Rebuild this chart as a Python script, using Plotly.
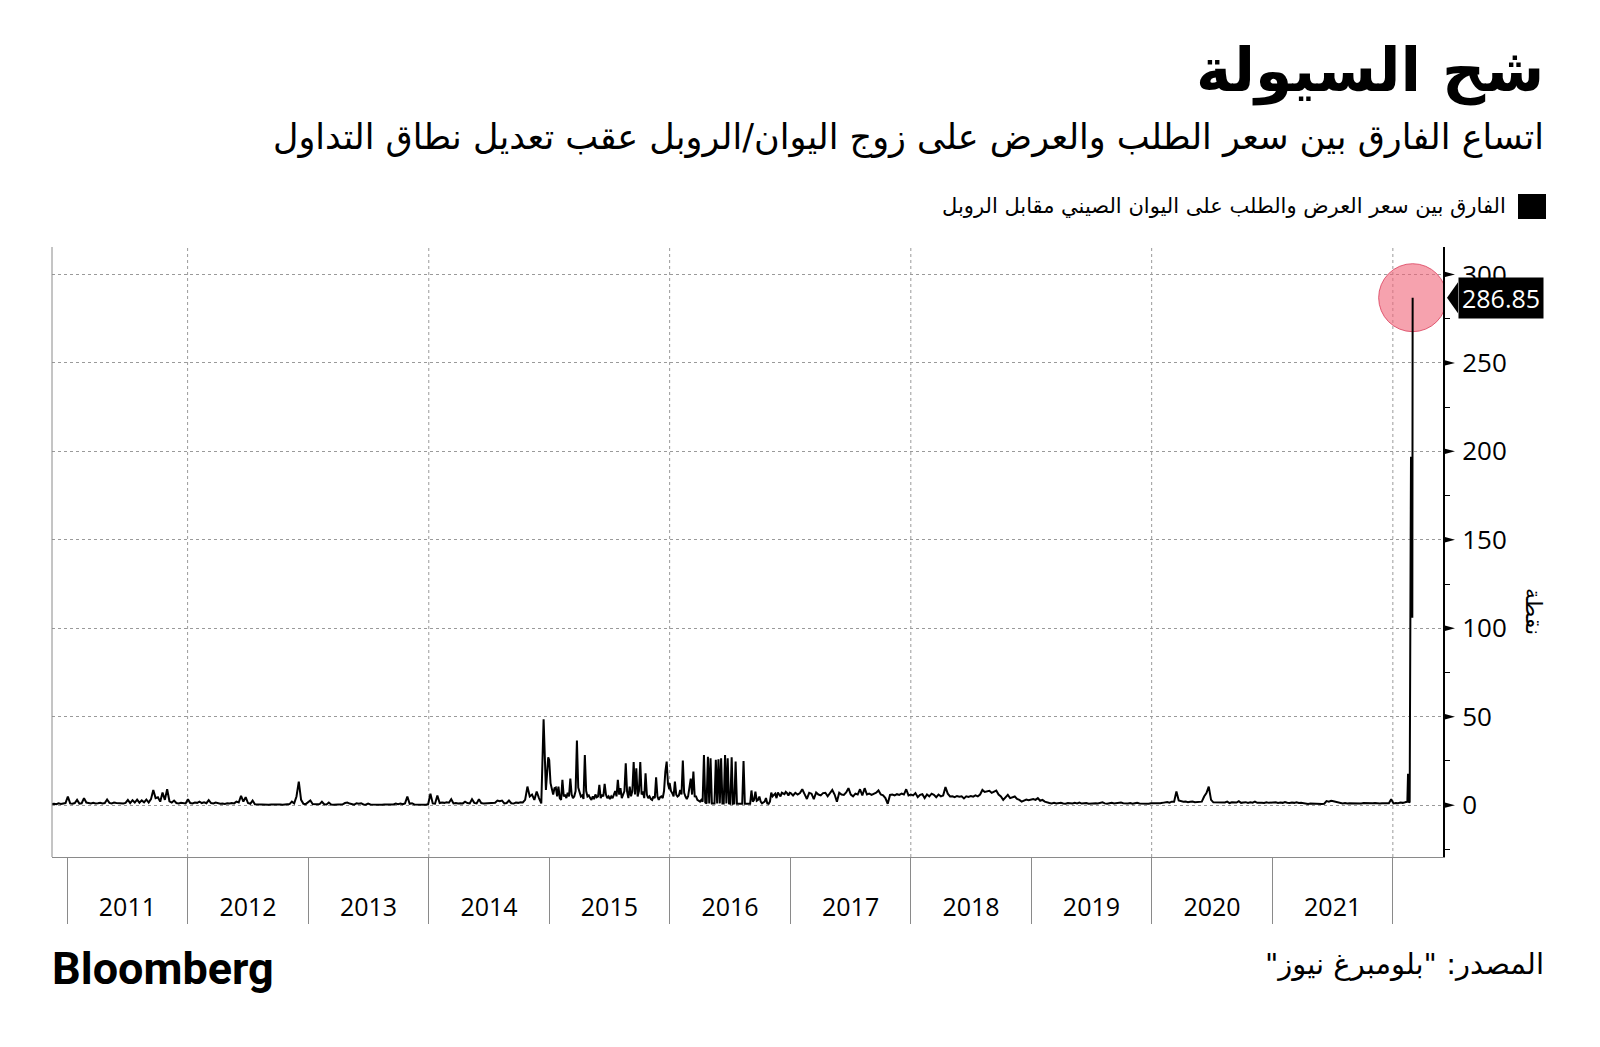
import pandas as pd
import plotly.graph_objects as go

# ---------------- DATA ----------------
# weekly values, 2010-11-15 .. 2010-12-27
y2010 = [0.6, 0.8, 0.5, 1.0, 0.7, 0.9, 1.2]
# weekly values from first Monday of each year
y2011 = [4.9, 1.0, 0.8, 1.2, 3.0, 0.9, 1.1, 4.0, 1.5, 1.2, 1.0, 1.3, 0.9, 1.1, 1.4, 1.0, 1.2, 3.2, 1.3, 1.0,
         1.5, 1.2, 1.1, 1.4, 1.0, 1.3, 3.0, 1.2, 2.8, 1.5, 3.1, 1.4, 2.7, 1.6, 3.2, 1.5, 3.4, 8.6, 4.0, 4.5,
         2.0, 7.1, 3.0, 9.0, 2.2, 1.5, 2.6, 1.2, 1.0, 1.4, 1.1, 1.0]
y2012 = [3.4, 1.2, 1.0, 1.5, 1.3, 2.0, 1.2, 1.6, 1.1, 2.8, 1.2, 1.0, 1.5, 1.0, 0.8, 0.9, 0.7, 1.1, 0.9, 1.2,
         1.0, 2.0, 1.5, 5.3, 2.0, 4.5, 1.2, 0.8, 2.6, 0.5, 0.4, 0.4, 0.3, 0.5, 0.4, 0.3, 0.4, 0.5, 0.3, 0.4,
         0.4, 0.3, 0.5, 0.4, 0.6, 2.0, 1.0, 4.9, 13.3, 3.0, 0.8, 0.6]
y2013 = [2.6, 0.6, 0.4, 0.5, 0.6, 1.9, 0.5, 0.4, 1.5, 0.4, 0.3, 0.4, 0.3, 0.4, 0.5, 1.2, 1.5, 0.9, 0.4, 0.3,
         1.1, 0.8, 1.1, 0.4, 0.3, 0.9, 0.4, 0.3, 0.3, 0.4, 0.3, 0.3, 0.4, 0.3, 0.4, 0.3, 0.4, 0.9, 0.6, 0.9,
         0.5, 1.0, 4.9, 0.8, 1.1, 0.4, 0.3, 0.4, 0.3, 0.4, 0.3, 0.5]
y2014 = [6.4, 1.0, 0.8, 5.5, 1.2, 1.5, 1.3, 1.6, 1.4, 3.4, 1.0, 1.2, 0.9, 1.1, 1.0, 2.0, 1.2, 1.0, 3.4, 1.3,
         1.0, 3.4, 1.2, 0.9, 1.0, 1.1, 0.8, 1.2, 1.4, 2.6, 2.2, 2.6, 1.0, 1.2, 2.6, 1.1, 0.9, 1.5, 1.3, 1.6,
         1.5, 3.0, 10.5, 4.9, 6.0, 3.0, 7.7, 4.0, 1.0, 48.5, 8.6, 27.0]
# values every 4 days from 1 January
y2015 = [25.5, 12.4, 8.6, 6.0, 9.6, 10.0, 5.0, 10.5, 4.0, 3.0, 14.3, 5.0, 6.0, 4.0, 7.0, 5.0, 15.0, 6.0, 4.0, 5.0,
         8.0, 36.5, 10.0, 6.8, 4.9, 5.5, 3.5, 28.4, 8.0, 4.9, 5.5, 4.0, 3.0, 5.0, 3.4, 6.0, 4.5, 5.0, 11.5, 4.0,
         6.0, 5.0, 12.0, 6.0, 4.0, 5.0, 3.5, 5.0, 4.0, 6.0, 8.0, 5.0, 14.3, 6.0, 9.6, 4.0, 6.0, 8.0, 23.7, 7.7,
         4.0, 10.5, 5.0, 8.0, 24.4, 6.0, 20.9, 4.9, 8.0, 24.4, 6.0, 7.7, 4.0, 18.0, 6.0, 4.0, 5.0, 3.5, 3.0, 5.0,
         4.0, 15.8, 5.0, 3.0, 4.5, 5.0, 4.0, 8.0, 19.0, 24.6, 12.0, 9.0]
y2016 = [12.4, 8.0, 6.8, 5.0, 13.3, 6.0, 4.9, 5.5, 8.6, 6.0, 25.2, 7.0, 4.9, 3.5, 5.0, 10.5, 15.0, 6.0, 19.0, 5.0,
         4.9, 3.0, 2.5, 2.0, 3.0, 2.0, 28.4, 1.5, 1.0, 27.4, 1.0, 26.5, 1.0, 0.8, 1.0, 25.6, 1.0, 26.0, 1.0, 26.5,
         1.0, 1.0, 28.4, 1.0, 26.5, 1.0, 0.8, 27.0, 0.8, 1.0, 24.6, 0.8, 0.8, 0.8, 0.8, 0.8, 25.0, 0.8, 0.8, 0.8,
         0.8, 0.8, 8.3, 2.0, 3.0, 7.7, 2.5, 3.0, 4.9, 2.0, 1.0, 1.5, 2.0, 4.0, 1.0, 0.8, 2.0, 7.1, 5.0, 5.8,
         6.5, 4.0, 7.2, 6.0, 5.0, 7.0, 6.5, 6.2, 7.5, 6.8, 5.5, 7.0]
y2017 = [6.8, 5.5, 7.0, 6.0, 6.8, 9.0, 6.2, 3.5, 7.0, 6.5, 3.4, 7.2, 6.0, 5.5, 6.8, 7.0, 5.0, 6.5, 8.6, 6.0,
         2.0, 7.0, 6.0, 5.8, 7.2, 9.6, 6.0, 5.0, 6.5, 6.0, 9.0, 5.5, 9.6, 6.0, 6.5, 5.8, 6.2, 7.0, 8.3, 6.0,
         5.5, 4.0, 0.8, 5.8, 6.0, 5.5, 6.2, 5.8, 6.5, 6.0, 9.0, 5.5]
y2018 = [6.0, 5.5, 6.8, 4.5, 5.8, 6.2, 4.0, 6.0, 5.0, 6.5, 5.8, 4.5, 6.0, 5.0, 5.5, 10.2, 6.5, 4.9, 5.0, 4.5,
         5.2, 4.8, 5.0, 3.8, 5.0, 4.6, 5.2, 4.8, 5.5, 5.0, 6.0, 8.6, 7.5, 8.0, 8.1, 7.0, 7.8, 8.3, 6.0, 4.9,
         3.0, 4.5, 5.8, 4.0, 4.5, 4.9, 3.5, 3.0, 2.0, 2.5, 3.2, 2.8]
y2019 = [3.5, 3.0, 4.0, 2.5, 3.0, 2.0, 1.5, 1.2, 1.0, 1.3, 0.9, 1.1, 1.4, 1.0, 0.8, 1.2, 1.1, 0.9, 1.3, 1.0,
         1.5, 0.9, 1.1, 1.2, 0.8, 1.0, 1.3, 1.1, 0.9, 1.2, 1.6, 1.0, 0.8, 1.1, 1.3, 0.9, 1.0, 1.2, 1.5, 1.1,
         0.9, 1.0, 1.2, 0.8, 1.1, 1.4, 1.0, 0.9, 1.2, 1.0, 0.8, 1.1]
y2020 = [1.0, 1.2, 0.9, 1.1, 1.3, 1.5, 1.8, 1.4, 2.0, 2.0, 7.7, 2.6, 2.2, 1.9, 2.0, 1.6, 1.9, 2.1, 1.7, 1.9,
         1.8, 2.0, 4.9, 6.8, 10.5, 3.0, 1.6, 1.5, 1.4, 1.7, 1.3, 1.5, 2.0, 1.2, 1.6, 1.4, 1.5, 2.2, 1.3, 1.5,
         1.7, 1.2, 1.6, 1.4, 2.0, 1.3, 1.5, 1.4, 1.2, 1.6, 1.3, 1.5]
y2021 = [1.4, 1.6, 1.2, 1.5, 1.3, 1.8, 1.4, 1.2, 1.5, 1.3, 1.6, 1.2, 1.4, 1.1, 0.8, 0.7, 0.9, 0.8, 0.7, 0.8,
         0.9, 0.7, 0.8, 2.3, 2.0, 2.5, 2.2, 1.8, 1.5, 1.1, 1.0, 1.2, 0.9, 1.1, 1.0, 1.2, 1.1, 0.9, 1.0, 1.2,
         1.1, 1.0, 0.9, 1.1, 1.2, 1.0, 0.9, 1.1, 1.0, 1.2, 1.1, 3.4]
y2022w = [1.0, 1.2, 1.1, 1.5, 1.3, 1.6, 2.0]
d2022 = ['2022-02-16', '2022-02-17', '2022-02-21', '2022-02-22', '2022-02-24', '2022-02-25',
         '2022-02-28', '2022-03-01', '2022-03-02']
y2022d = [17.7, 2.0, 1.5, 150.0, 152.0, 197.0, 190.0, 106.0, 286.85]

segments = [
    ('2010-11-15', '7D', y2010), ('2011-01-03', '7D', y2011), ('2012-01-02', '7D', y2012),
    ('2013-01-07', '7D', y2013), ('2014-01-06', '7D', y2014), ('2015-01-01', '4D', y2015),
    ('2016-01-01', '4D', y2016), ('2017-01-02', '7D', y2017), ('2018-01-01', '7D', y2018),
    ('2019-01-07', '7D', y2019), ('2020-01-06', '7D', y2020), ('2021-01-04', '7D', y2021),
    ('2022-01-03', '7D', y2022w),
]

y_ticks = [0, 50, 100, 150, 200, 250, 300]
grid_years = ['2012-01-01', '2014-01-01', '2016-01-01', '2018-01-01', '2020-01-01', '2022-01-01']

title = 'شح السيولة'
subtitle = 'اتساع الفارق بين سعر الطلب والعرض على زوج اليوان/الروبل عقب تعديل نطاق التداول'
legend_text = 'الفارق بين سعر العرض والطلب على اليوان الصيني مقابل الروبل'
y_title = 'نقطة'
source = 'المصدر: "بلومبرغ نيوز"'

# ---------------- build series ----------------
dates, vals = [], []
for start, freq, v in segments:
    dates += list(pd.date_range(start, periods=len(v), freq=freq))
    vals += v
dates += list(pd.to_datetime(d2022))
vals += y2022d
last_date, last_val = dates[-1], vals[-1]

# ---------------- layout geometry (screen pixels) ----------------
SW, SH = 1600, 1047
OFF = 8  # default page body margin
L, R, T, B = 52, 1443, 247, 857
YMIN, YMAX = -29.3, 315.5
def px(x):
    return (x - L) / (R - L)
def py(y):
    return (B - y) / (B - T)
unit = (B - T) / (YMAX - YMIN)  # px per y unit

ARABIC = 'DejaVu Sans'
NUM = 'Open Sans'
RLM = '\u200f'

fig = go.Figure()

fig.add_trace(go.Scatter(
    x=[last_date], y=[last_val], mode='markers',
    marker=dict(size=68, color='rgba(240,100,120,0.6)', line=dict(color='rgba(215,50,80,0.75)', width=1)),
    hoverinfo='skip', showlegend=False))

fig.add_trace(go.Scatter(
    x=dates, y=vals, mode='lines', line=dict(color='black', width=2),
    showlegend=False, name=legend_text))

shapes = []
for g in grid_years:
    shapes.append(dict(type='line', xref='x', yref='paper', x0=g, x1=g, y0=0, y1=1,
                       line=dict(color='#9a9a9a', width=1, dash='dot'), layer='below'))
shapes.append(dict(type='line', xref='paper', yref='paper', x0=0, x1=0, y0=0, y1=1,
                   line=dict(color='#8a8a8a', width=1)))
tri_h = 3.2 / unit
for t in y_ticks:
    shapes.append(dict(type='path', xref='paper', yref='y',
                       path=f'M {px(R)},{t + tri_h} L {px(R + 12)},{t} L {px(R)},{t - tri_h} Z',
                       fillcolor='black', line=dict(width=0)))
lab_h = 15.5 / unit
shapes.append(dict(type='path', xref='paper', yref='y',
                   path=f'M {px(R + 4)},{last_val} L {px(R + 15)},{last_val + lab_h} L {px(R + 15)},{last_val - lab_h} Z',
                   fillcolor='black', line=dict(width=0)))
shapes.append(dict(type='rect', xref='paper', yref='paper', x0=px(1518), x1=px(1546), y0=py(219), y1=py(194),
                   fillcolor='black', line=dict(width=0)))

annotations = [
    dict(text=f'<b>{title}</b>', x=px(1546), y=py(70), xref='paper', yref='paper', xanchor='right', yanchor='middle',
         showarrow=False, font=dict(family=ARABIC, size=60, color='black')),
    dict(text=subtitle, x=px(1546), y=py(137), xref='paper', yref='paper', xanchor='right', yanchor='middle',
         showarrow=False, font=dict(family=ARABIC, size=35, color='black')),
    dict(text=legend_text, x=px(1508), y=py(206), xref='paper', yref='paper', xanchor='right', yanchor='middle',
         showarrow=False, font=dict(family=ARABIC, size=21, color='black')),
    dict(text=y_title, x=px(1534), y=py(612), xref='paper', yref='paper', xanchor='center', yanchor='middle',
         textangle=90, showarrow=False, font=dict(family=ARABIC, size=22, color='black')),
    dict(text=f'{last_val:.2f}', x=px(R + 15), y=last_val, xref='paper', yref='y', xanchor='left', yanchor='middle',
         showarrow=False, bgcolor='black', borderpad=3, font=dict(family=NUM, size=25, color='white')),
    dict(text='<b>Bloomberg</b>', x=px(50), y=py(968), xref='paper', yref='paper', xanchor='left', yanchor='middle',
         showarrow=False, font=dict(family='Roboto', size=45, color='black')),
    dict(text=RLM + source + RLM, x=px(1546), y=py(964), xref='paper', yref='paper', xanchor='right', yanchor='middle',
         showarrow=False, font=dict(family=ARABIC, size=29, color='black')),
]

fig.update_layout(
    width=SW - OFF, height=SH - OFF,
    margin=dict(l=L - OFF, r=SW - R, t=T - OFF, b=SH - B, pad=0),
    paper_bgcolor='white', plot_bgcolor='white',
    showlegend=False,
    shapes=shapes, annotations=annotations,
    xaxis=dict(
        type='date', range=['2010-11-16', '2022-06-02'],
        tick0='2011-01-01', dtick='M12', tickformat='%Y', ticklabelmode='period',
        ticks='outside', ticklen=66, tickwidth=1, tickcolor='#8a8a8a',
        ticklabelstandoff=-38,
        showgrid=False, zeroline=False,
        showline=True, linecolor='#8a8a8a', linewidth=1,
        tickfont=dict(family=NUM, size=25, color='black'),
    ),
    yaxis=dict(
        side='right', range=[YMIN, YMAX],
        tickmode='array', tickvals=y_ticks,
        ticks='outside', ticklen=12, tickcolor='rgba(0,0,0,0)',
        minor=dict(tick0=-25, dtick=50, ticks='outside', ticklen=5, tickcolor='black', tickwidth=1),
        showgrid=True, gridcolor='#9a9a9a', griddash='dot', gridwidth=1,
        zeroline=False,
        showline=True, linecolor='black', linewidth=2,
        tickfont=dict(family=NUM, size=26, color='black'),
    ),
)

fig.write_html('out.html')
